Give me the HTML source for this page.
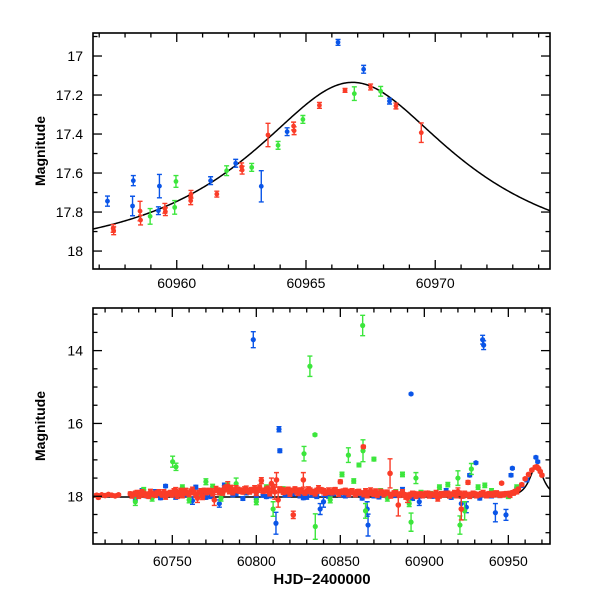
<!DOCTYPE html>
<html><head><meta charset="utf-8"><style>
html,body{margin:0;padding:0;background:#fff;}
svg text{font-family:"Liberation Sans",sans-serif;}
</style></head><body>
<svg id="chart" width="600" height="600" viewBox="0 0 600 600" xmlns="http://www.w3.org/2000/svg"></svg>
<script>
// ---- Top panel data ----
const topBlueT=[60957.32,60958.32,60958.29,60959.33,60959.29,60961.31,60962.28,60963.27,60964.27,60966.24,60967.23,60968.23];
const topBlueM=[17.744,17.639,17.769,17.667,17.793,17.639,17.550,17.668,17.388,16.930,17.068,17.231];
const topBlueE=[0.026,0.026,0.05,0.06,0.02,0.02,0.02,0.08,0.02,0.015,0.02,0.015];
const topRedT=[60957.56,60957.54,60958.58,60958.60,60959.54,60959.56,60960.55,60960.54,60961.55,60962.51,60962.53,60963.53,60964.52,60964.54,60965.52,60966.51,60967.50,60968.48,60969.46];
const topRedM=[17.896,17.884,17.795,17.841,17.781,17.798,17.709,17.742,17.708,17.568,17.585,17.405,17.359,17.383,17.253,17.176,17.159,17.256,17.393];
const topRedE=[0.02,0.02,0.05,0.025,0.025,0.02,0.02,0.02,0.015,0.02,0.02,0.06,0.02,0.02,0.015,0.01,0.015,0.015,0.05];
const topGreenT=[60958.97,60959.92,60959.97,60961.93,60962.90,60963.92,60964.88,60966.87,60967.89];
const topGreenM=[17.822,17.776,17.643,17.588,17.571,17.458,17.325,17.193,17.181];
const topGreenE=[0.04,0.035,0.03,0.025,0.02,0.02,0.02,0.035,0.025];
// model parameters
const modelBase=18.02, modelT0=60966.8, modelU0=0.48, modelTE=7.0;
// ticks
const topXTicks=[60960,60965,60970];
const topYTicks=[17,17.2,17.4,17.6,17.8,18];
const topYLabels=["17","17.2","17.4","17.6","17.8","18"];
// ---- Bottom panel data ----
const botRedT=[60705,60706,60708,60710,60712,60714,60716,60718,
60725,60727,60729,60731,60733,60735,60737,60739,60741,60743,60745,60747,60749,60751,60753,60755,60757,60759,60761,60763,60765,60767,60769,60771,60773,60775,60777,60779,60781,60783,60785,60787,60789,60791,60793,60795,60797,60799,60801,60803,60805,60807,60809,60811,60812,60813,60815,60817,60819,60821,60822,60824,60826,60828,60830,60832,60834,60836,60838,60840,60842,60844,60846,60848,60850,60852,60854,60856,60858,60860,60862,60863.7,60865,60867,60869,60871,60873,60875,60877,60879.6,60881,60883,60884.5,60886,60888,60890,60892,60894,60896,60898,60900,60902,60904,60906,60908,60910,60912,60914,60916,60918,60920,60922,60924,60926,60928,60930,60932,60934,60936,60938,60940,60942,60944,60946,60948,60950,60952,60954,60956,60958,60960,60962,60964,60966,60967,60968,60969,60970];
const botRedM=[17.97,18.03,17.96,17.98,17.95,17.97,17.99,17.96,
17.93,17.95,17.90,17.97,17.92,17.94,17.88,17.96,17.91,17.93,17.89,17.95,17.90,17.86,17.98,17.85,17.88,17.92,17.87,17.90,18.05,17.86,17.84,17.89,17.86,18.10,17.83,17.85,17.80,17.72,17.78,17.84,17.82,17.86,17.81,17.85,17.83,17.79,17.82,17.57,17.84,17.80,17.65,17.88,17.55,18.10,17.83,17.86,17.82,17.84,18.51,17.87,17.83,17.55,17.86,17.84,17.88,17.85,17.82,17.86,17.89,17.87,17.84,17.88,17.60,17.86,17.89,17.87,17.91,17.88,17.90,16.64,17.86,17.93,17.90,17.87,17.92,17.89,17.91,17.37,17.94,17.90,18.24,17.93,17.96,18.05,17.95,17.92,17.96,17.93,17.95,17.91,17.94,17.97,18.05,17.93,17.96,17.92,17.95,17.90,17.87,18.35,17.92,17.62,17.95,17.93,17.96,17.92,17.95,17.93,17.96,17.91,17.94,17.64,17.93,17.92,17.90,17.86,17.80,17.68,17.52,17.40,17.28,17.20,17.19,17.24,17.32,17.42];
const botRedE=[0.04,0.04,0.03,0.03,0.03,0.03,0.03,0.03,
0.05,0.05,0.06,0.05,0.06,0.05,0.07,0.05,0.06,0.05,0.07,0.05,0.06,0.07,0.08,0.07,0.06,0.05,0.07,0.06,0.12,0.07,0.06,0.05,0.07,0.15,0.06,0.07,0.08,0.12,0.08,0.06,0.07,0.06,0.07,0.06,0.07,0.08,0.07,0.08,0.06,0.08,0.15,0.2,0.2,0.2,0.07,0.06,0.07,0.06,0.1,0.07,0.06,0.2,0.06,0.07,0.06,0.07,0.06,0.07,0.06,0.05,0.07,0.06,0.05,0.06,0.07,0.06,0.05,0.06,0.05,0.04,0.07,0.05,0.06,0.07,0.05,0.06,0.05,0.4,0.05,0.06,0.3,0.05,0.06,0.12,0.06,0.05,0.06,0.05,0.06,0.05,0.06,0.05,0.08,0.06,0.05,0.06,0.05,0.06,0.1,0.3,0.06,0.05,0.06,0.05,0.06,0.05,0.06,0.05,0.06,0.05,0.06,0.03,0.05,0.04,0.04,0.04,0.04,0.04,0.03,0.03,0.03,0.03,0.03,0.03,0.03,0.03];
// second pass of red (interleaved nights)
const botRed2T=[60726,60728,60730,60732,60734,60736,60738,60740,60742,60744,60746,60748,60750,60752,60754,60756,60758,60760,60762,60764,60766,60768,60770,60772,60774,60776,60778,60780,60782,60784,60786,60788,60790,60792,60794,60796,60798,60800,60802,60804,60806,60808,60810,60814,60816,60818,60820,60823,60825,60827,60829,60831,60833,60835,60837,60839,60841,60843,60845,60847,60849,60851,60853,60855,60857,60859,60861,60864,60866,60868,60870,60872,60874,60876,60878,60880,60882,60885,60887,60889,60891,60893,60895,60897,60899,60901,60903,60905,60907,60909,60911,60913,60915,60917,60919,60921,60923,60925,60927,60929,60931,60933,60935,60937,60939,60941,60943,60945,60947,60949,60951,60953,60955];
const botRed2M=[17.98,17.92,17.99,17.88,17.96,18.00,17.93,17.97,17.89,17.96,18.01,17.92,17.95,17.84,17.93,17.98,17.86,17.94,17.83,17.96,17.90,18.02,17.88,17.85,17.93,17.81,17.89,17.91,17.77,17.86,17.90,17.79,17.84,17.88,17.80,17.87,17.82,17.90,17.76,17.86,17.83,17.92,17.78,17.81,17.89,17.85,17.93,17.80,17.90,17.86,17.91,17.82,17.88,17.93,17.79,17.84,17.91,17.85,17.89,17.82,17.92,17.88,17.84,17.93,17.86,17.95,17.89,17.94,17.98,17.85,17.93,17.97,17.88,17.95,17.90,17.99,17.92,17.97,17.89,18.02,17.98,17.92,17.99,17.94,17.97,17.92,17.98,17.95,17.91,17.99,17.95,17.92,17.98,17.94,17.97,17.92,17.98,17.95,17.99,17.92,17.97,17.95,17.91,17.98,17.94,17.96,17.92,17.97,17.95,17.93,17.96,17.91,17.88];
const botRed2E=[0.07,0.06,0.07,0.06,0.07,0.06,0.07,0.06,0.07,0.06,0.07,0.06,0.07,0.08,0.07,0.06,0.08,0.07,0.08,0.07,0.06,0.07,0.08,0.07,0.06,0.08,0.07,0.06,0.08,0.07,0.06,0.08,0.07,0.06,0.08,0.07,0.06,0.08,0.07,0.06,0.08,0.07,0.1,0.07,0.06,0.08,0.07,0.06,0.08,0.07,0.06,0.08,0.07,0.06,0.08,0.07,0.06,0.08,0.07,0.06,0.08,0.07,0.06,0.08,0.07,0.06,0.08,0.07,0.06,0.08,0.07,0.06,0.07,0.06,0.07,0.06,0.07,0.06,0.07,0.06,0.07,0.06,0.07,0.06,0.07,0.06,0.07,0.06,0.07,0.06,0.07,0.06,0.07,0.06,0.07,0.06,0.07,0.06,0.07,0.06,0.07,0.06,0.07,0.06,0.07,0.06,0.07,0.06,0.07,0.06,0.07,0.06,0.05];
const botBlueT=[60728,60732,60737,60740,60746,60752,60758,60762,60764,60768,60773,60778,60781,60784,60788,60794,60798.2,60800,60804,60808,60811.7,60813.5,60814,60817,60822,60826,60830,60833,60836,60838,60840,60846,60850,60855,60860,60866.5,60866,60870,60876,60882,60887,60890,60892.1,60897,60902,60908,60913,60918,60922,60925,60927,60930.7,60934.7,60935.3,60938,60942.3,60945,60948.6,60951.6,60952.4,60955,60958,60961,60966.4,60967.5,60735,60743,60756,60770,60786,60792,60806,60819,60828,60843,60853,60863,60873,60880,60893,60905,60916,60933,60940,60950];
const botBlueM=[18.05,17.85,17.97,17.88,17.72,18.02,17.95,18.12,17.75,17.92,18.00,18.20,17.70,17.80,17.93,17.90,13.70,18.03,17.96,17.98,18.74,16.16,16.75,17.95,17.93,17.98,18.02,17.96,18.00,18.35,18.15,17.92,17.95,17.96,17.92,18.79,18.35,17.98,17.95,17.97,17.82,18.00,15.19,18.15,17.92,17.96,17.85,17.95,18.20,18.30,17.42,17.08,13.70,13.85,17.98,18.45,17.97,18.51,17.42,17.23,17.80,17.70,17.55,16.93,17.05,17.99,18.04,17.98,18.03,17.96,18.06,18.01,17.97,18.04,18.00,17.99,18.05,18.02,17.98,18.06,18.00,18.03,18.05,17.99,17.97];
const botBlueE=[0.06,0.06,0.06,0.06,0.04,0.06,0.06,0.1,0.05,0.06,0.06,0.1,0.06,0.06,0.06,0.06,0.22,0.06,0.06,0.06,0.3,0.07,0.05,0.06,0.06,0.06,0.06,0.06,0.06,0.15,0.15,0.06,0.06,0.06,0.06,0.3,0.2,0.06,0.06,0.06,0.06,0.06,0.02,0.1,0.06,0.06,0.06,0.06,0.15,0.15,0.04,0.03,0.12,0.12,0.06,0.25,0.06,0.15,0.04,0.03,0.05,0.05,0.05,0.03,0.03,0.05,0.05,0.05,0.05,0.05,0.05,0.05,0.05,0.05,0.05,0.05,0.05,0.05,0.05,0.05,0.05,0.05,0.05,0.05,0.05];
const botGreenT=[60728,60733,60738,60744,60750.2,60752.2,60756,60760,60765,60770,60774,60779,60783,60788,60793,60800,60806,60810,60816,60820,60828.4,60831.9,60834.9,60835.1,60840,60844,60849,60851,60854.8,60858,60861.1,60863.3,60863.5,60865,60870,60874,60878,60883,60887,60891,60892.1,60895,60898,60904,60909,60914,60918,60920,60921.2,60924,60928,60932,60936,60940,60945,60950,60955];
const botGreenM=[18.15,17.82,18.05,17.95,17.05,17.19,17.75,18.10,17.97,17.60,17.73,18.05,17.70,17.65,17.85,18.15,17.75,18.35,17.80,17.90,16.83,14.43,16.31,18.83,17.85,18.10,17.90,17.40,16.87,17.58,17.14,13.31,16.75,18.40,16.98,17.85,18.05,17.88,17.40,18.20,18.71,17.50,17.90,17.93,17.75,17.68,17.95,17.50,18.79,18.40,17.25,17.75,17.70,17.85,17.95,18.00,17.75];
const botGreenE=[0.1,0.06,0.08,0.06,0.15,0.1,0.06,0.08,0.06,0.08,0.06,0.08,0.06,0.15,0.06,0.08,0.06,0.2,0.06,0.06,0.2,0.28,0.03,0.35,0.06,0.08,0.06,0.06,0.2,0.06,0.05,0.28,0.3,0.2,0.05,0.06,0.08,0.06,0.06,0.08,0.25,0.15,0.06,0.06,0.06,0.06,0.06,0.2,0.25,0.25,0.15,0.06,0.06,0.06,0.06,0.06,0.06];
const botXTicks=[60750,60800,60850,60900,60950];
const botYTicks=[14,16,18];

const NS="http://www.w3.org/2000/svg";
const svg=document.getElementById('chart');
const BLUE="#0a55e8", RED="#fa3c28", GREEN="#3ce63c";
function mk(tag,attrs,parent){const e=document.createElementNS(NS,tag);for(const k in attrs)e.setAttribute(k,attrs[k]);(parent||svg).appendChild(e);return e;}

function panel(name,L,R,T,B,t0,t1,m0,m1){
  const g=mk('g',{});
  
  
  return {g,L,R,T,B,x:t=>L+(t-t0)/(t1-t0)*(R-L),y:m=>T+(m-m0)/(m1-m0)*(B-T),t0,t1,m0,m1};
}
function ticks(p,xMinorStep,xMajorStep,yMinorStep,yMajorStep){
  const tg=mk('g',{stroke:'#000','stroke-width':1.3},p.g);
  
  
  let s=Math.ceil(p.t0/xMinorStep)*xMinorStep;
  for(let t=s;t<=p.t1+1e-9;t+=xMinorStep){
    const maj=Math.abs(t/xMajorStep-Math.round(t/xMajorStep))<1e-6;const len=maj?9:4.5;const X=p.x(t);
    mk('line',{x1:X,x2:X,y1:p.B,y2:p.B-len},tg);mk('line',{x1:X,x2:X,y1:p.T,y2:p.T+len},tg);
  }
  s=Math.ceil(p.m0/yMinorStep-1e-9)*yMinorStep;
  for(let m=s;m<=p.m1+1e-9;m+=yMinorStep){
    const maj=Math.abs(m/yMajorStep-Math.round(m/yMajorStep))<1e-6;const len=maj?9:4.5;const Y=p.y(m);
    mk('line',{x1:p.L,x2:p.L+len,y1:Y,y2:Y},tg);mk('line',{x1:p.R,x2:p.R-len,y1:Y,y2:Y},tg);
  }
}
function series(p,T,M,E,color,name,r){
  const sg=mk('g',{},p.g);
  
  
  for(let i=0;i<T.length;i++){
    const X=p.x(T[i]),Y=p.y(M[i]),y1=p.y(M[i]-E[i]),y2=p.y(M[i]+E[i]);
    mk('path',{d:`M${X},${y1}V${y2}M${X-2.5},${y1}H${X+2.5}M${X-2.5},${y2}H${X+2.5}`,stroke:color,'stroke-width':1.4,fill:'none'},sg);
    const c=mk('circle',{cx:X,cy:Y,r:r,fill:color},sg);
    
    
  }
}
function model(p){
  let d='';
  for(let i=0;i<=400;i++){
    const t=p.t0+(p.t1-p.t0)*i/400;
    const u=Math.sqrt(modelU0*modelU0+Math.pow((t-modelT0)/modelTE,2));
    const A=(u*u+2)/(u*Math.sqrt(u*u+4));
    const m=modelBase-2.5*Math.log10(A);
    d+=(i?'L':'M')+p.x(t).toFixed(2)+','+p.y(m).toFixed(2);
  }
  const c=mk('path',{d,stroke:'#000','stroke-width':1.5,fill:'none'},p.g);
  
  
}
function frame(p){
  const f=mk('rect',{x:p.L,y:p.T,width:p.R-p.L,height:p.B-p.T,fill:'none',stroke:'#000','stroke-width':1.6},p.g);
  
  
}
function label(p,txt,x,y,anchor,name,extra){
  const t=mk('text',Object.assign({x,y,'text-anchor':anchor,'font-size':14,fill:'#000'},extra||{}),p.g);
  t.textContent=txt;
  
  
  return t;
}

// Top panel
const P1=panel('top-panel',93,550,33,269,60956.76,60974.44,16.882,18.092);
const cp1=mk('clipPath',{id:'c1'});mk('rect',{x:93,y:33,width:457,height:236},cp1);
model(P1); P1.g.lastChild.setAttribute('clip-path','url(#c1)');
series(P1,topBlueT,topBlueM,topBlueE,BLUE,'top-blue-series',2.4);
series(P1,topGreenT,topGreenM,topGreenE,GREEN,'top-green-series',2.4);
series(P1,topRedT,topRedM,topRedE,RED,'top-red-series',2.4);
ticks(P1,1,5,0.1,0.2);frame(P1);
topXTicks.forEach(t=>label(P1,String(t),P1.x(t),288,'middle','x-tick-label'));
topYTicks.forEach((m,i)=>label(P1,topYLabels[i],83,P1.y(m)+5,'end','y-tick-label'));
label(P1,'Magnitude',45,151,'middle','y-axis-title',{transform:'rotate(-90 45 151)','font-weight':'bold'});

// Bottom panel
const P2=panel('bottom-panel',93,550,308,544,60702.8,60974.8,12.83,19.31);
const cp2=mk('clipPath',{id:'c2'});mk('rect',{x:93,y:308,width:457,height:236},cp2);
model(P2); P2.g.lastChild.setAttribute('clip-path','url(#c2)');
series(P2,botBlueT,botBlueM,botBlueE,BLUE,'bottom-blue-series',2.6);
series(P2,botGreenT,botGreenM,botGreenE,GREEN,'bottom-green-series',2.6);
series(P2,botRed2T,botRed2M,botRed2E,RED,'bottom-red-series-2',2.8);
series(P2,botRedT,botRedM,botRedE,RED,'bottom-red-series',2.8);
ticks(P2,10,50,0.5,2);frame(P2);
botXTicks.forEach(t=>label(P2,String(t),P2.x(t),566,'middle','x-tick-label'));
botYTicks.forEach(m=>label(P2,String(m),83,P2.y(m)+5,'end','y-tick-label'));
label(P2,'Magnitude',45,426,'middle','y-axis-title',{transform:'rotate(-90 45 426)','font-weight':'bold'});
label(P2,'HJD\u22122400000',322,584,'middle','x-axis-title',{'font-weight':'bold','font-family':'Liberation Serif, serif','font-size':15});
</script>
</body></html>
